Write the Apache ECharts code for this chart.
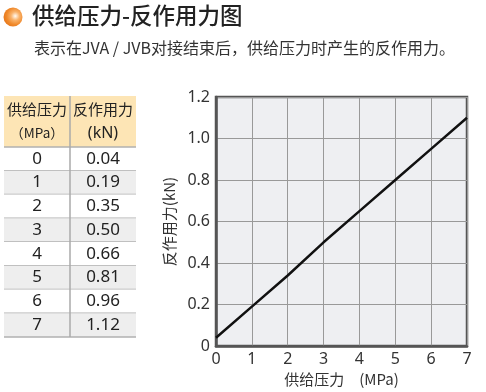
<!DOCTYPE html>
<html><head><meta charset="utf-8">
<script src="https://cdn.jsdelivr.net/npm/echarts@6/dist/echarts.min.js"></script>
<style>html,body{margin:0;padding:0;background:#fff}#c{width:486px;height:392px}</style>
</head><body><div id="c"></div>
<script>
// ---- data ----
var titleText = '供给压力-反作用力图';
var subtitleText = '表示在JVA / JVB对接结束后，供给压力时产生的反作用力。';
var tableHeader1 = ['供给压力', '（MPa）'];
var tableHeader2 = ['反作用力', '(kN)'];
var pressures = ['0','1','2','3','4','5','6','7'];
var forces = ['0.04','0.19','0.35','0.50','0.66','0.81','0.96','1.12'];
// line as drawn in the chart
var linePressure = [0,1,2,3,4,5,6,7];
var lineForce = [0.04,0.19,0.34,0.50,0.65,0.80,0.95,1.10];
var xTicks = [0,1,2,3,4,5,6,7];
var yTicks = [0,0.2,0.4,0.6,0.8,1.0,1.2];
var xName = '供给压力\u3000(MPa)';
var yName = '反作用力(kN)';

var FONT = '"Noto Sans", "Noto Sans CJK SC", sans-serif';
var CJK = '"Noto Sans CJK SC", sans-serif';

var chart = echarts.init(document.getElementById('c'), null, {renderer:'canvas'});

// table graphics
var tX = 4, tW = 132, divX = 70, hTop = 96, hBot = 147, rowH = 23.75;
var g = [];
g.push({type:'circle', shape:{cx:13, cy:17, r:9.5}, style:{fill:new echarts.graphic.RadialGradient(0.62,0.45,0.75,[{offset:0,color:'#fffaf2'},{offset:0.3,color:'#f9b26a'},{offset:0.6,color:'#f08a2c'},{offset:1,color:'#e06a10'}])}});
g.push({type:'text', left:32, top:4, style:{text:titleText, font:'500 22.5px '+CJK, fill:'#222'}});
g.push({type:'text', left:34, top:40, style:{text:subtitleText, font:'16px '+CJK, fill:'#333'}});
g.push({type:'rect', shape:{x:tX, y:hTop, width:tW, height:hBot-hTop}, style:{fill:'#fde5b5'}});
for (var i=0;i<pressures.length;i++){
  var y0 = hBot + i*rowH;
  g.push({type:'rect', shape:{x:tX, y:y0, width:tW, height:rowH}, style:{fill: i%2 ? '#eeeeee' : '#ffffff'}});
  g.push({type:'text', x:(tX+divX)/2, y:y0+rowH/2, style:{text:pressures[i], font:'17px '+FONT, fill:'#222', align:'center', verticalAlign:'middle'}});
  g.push({type:'text', x:(divX+tX+tW)/2, y:y0+rowH/2, style:{text:forces[i], font:'17px '+FONT, fill:'#222', align:'center', verticalAlign:'middle'}});
  g.push({type:'line', shape:{x1:tX, y1:y0+rowH, x2:tX+tW, y2:y0+rowH}, style:{stroke:'#b0b0b0', lineWidth:1.5}});
}
g.push({type:'line', shape:{x1:tX, y1:hBot, x2:tX+tW, y2:hBot}, style:{stroke:'#b0b0b0', lineWidth:1.5}});
g.push({type:'line', shape:{x1:divX, y1:hTop, x2:divX, y2:hBot+rowH*pressures.length}, style:{stroke:'#aaaaaa', lineWidth:1.5}});
g.push({type:'text', x:(tX+divX)/2, y:hTop+13, style:{text:tableHeader1[0], font:'15px '+CJK, fill:'#222', align:'center', verticalAlign:'middle'}});
g.push({type:'text', x:(tX+divX)/2, y:hTop+37, style:{text:tableHeader1[1], font:'13.5px '+CJK, fill:'#222', align:'center', verticalAlign:'middle'}});
g.push({type:'text', x:(divX+tX+tW)/2, y:hTop+13, style:{text:tableHeader2[0], font:'15px '+CJK, fill:'#222', align:'center', verticalAlign:'middle'}});
g.push({type:'text', x:(divX+tX+tW)/2, y:hTop+37, style:{text:tableHeader2[1], font:'16px '+FONT, fill:'#222', align:'center', verticalAlign:'middle'}});

chart.setOption({
  animation:false,
  graphic:g,
  grid:{left:216, top:97, right:19, bottom:45, show:true, backgroundColor:'#eeeff2', borderColor:'#555', borderWidth:2.5, containLabel:false},
  xAxis:{type:'value', min:0, max:7, interval:1,
    name:xName, nameLocation:'middle', nameGap:24, nameTextStyle:{fontSize:15, fontFamily:CJK, color:'#333'},
    axisLine:{show:true, lineStyle:{color:'#555', width:2.5}}, axisTick:{show:false},
    axisLabel:{color:'#333', fontSize:16, fontFamily:FONT, margin:5},
    splitLine:{show:true, lineStyle:{color:'#999', width:1}}},
  yAxis:{type:'value', min:0, max:1.2, interval:0.2,
    name:yName, nameLocation:'middle', nameGap:39, nameRotate:90, nameTextStyle:{fontSize:15, fontFamily:CJK, color:'#333'},
    axisLine:{show:true, lineStyle:{color:'#555', width:2.5}}, axisTick:{show:false},
    axisLabel:{color:'#333', fontSize:16, fontFamily:FONT, margin:6, formatter:function(v){return v===0?'0':v.toFixed(1);}},
    splitLine:{show:true, lineStyle:{color:'#999', width:1}}},
  series:[{type:'line', data:linePressure.map(function(p,i){return [p,lineForce[i]];}), symbol:'none', lineStyle:{color:'#111', width:2.5}}]
});
</script></body></html>
